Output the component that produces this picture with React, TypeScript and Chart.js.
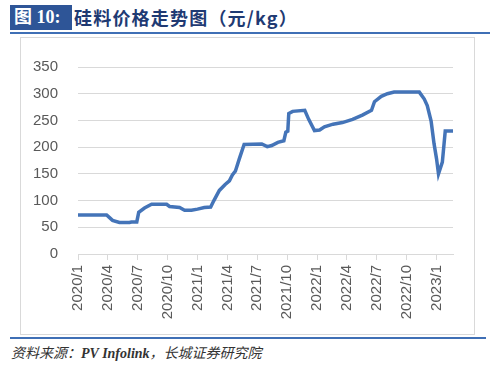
import React, { useEffect, useRef } from "react";
import { Chart, registerables } from "chart.js";

Chart.register(...registerables);

// Weekly-ish sample dates and silicon price (元/kg)
const dates: string[] = [
  "2020-01-01", "2020-03-28", "2020-04-06", "2020-04-15", "2020-05-06", "2020-06-06",
  "2020-06-12", "2020-06-28", "2020-07-04", "2020-07-22", "2020-08-13", "2020-09-28",
  "2020-10-07", "2020-11-07", "2020-11-22", "2020-12-13", "2021-01-01", "2021-01-22",
  "2021-02-10", "2021-02-19", "2021-03-07", "2021-03-25", "2021-04-07", "2021-04-16",
  "2021-04-25", "2021-05-07", "2021-05-22", "2021-07-15", "2021-08-01", "2021-08-15",
  "2021-09-03", "2021-09-21", "2021-09-27", "2021-10-03", "2021-10-06", "2021-10-18",
  "2021-11-24", "2021-12-06", "2021-12-24", "2022-01-09", "2022-01-24", "2022-02-18",
  "2022-03-18", "2022-04-18", "2022-05-18", "2022-06-15", "2022-06-24", "2022-07-15",
  "2022-08-03", "2022-08-24", "2022-11-09", "2022-11-24", "2022-12-03", "2022-12-15",
  "2022-12-24", "2023-01-01", "2023-01-07", "2023-01-19", "2023-01-28", "2023-02-21",
];
const prices: number[] = [
  73, 73, 68, 63, 59, 59,
  60, 60, 78, 86, 93, 93,
  89, 87, 82, 82, 84, 87,
  88, 100, 119, 130, 137, 148,
  155, 178, 205, 206, 201, 203,
  209, 212, 228, 230, 263, 267,
  269, 252, 231, 232, 238, 243,
  246, 252, 260, 269, 285, 295,
  300, 303, 303, 290, 278, 249,
  207, 178, 150, 172, 230, 230,
];
const yTicks: number[] = [0, 50, 100, 150, 200, 250, 300, 350];
const startYear = 2020;
const xMaxMonths = 37.65;

function monthOffset(d: string): number {
  const [y, m, day] = d.split("-").map(Number);
  const dim = new Date(y, m, 0).getDate();
  return (y - startYear) * 12 + (m - 1) + (day - 1) / dim;
}

function ChartBox() {
  const ref = useRef<HTMLCanvasElement | null>(null);
  useEffect(() => {
    if (!ref.current) return;
    const grey = "#595959";
    const tickFont = { family: "'Liberation Sans', Arial, sans-serif", size: 15 };
    const chart = new Chart(ref.current, {
      type: "line",
      data: {
        datasets: [
          {
            data: dates.map((d, i) => ({ x: monthOffset(d), y: prices[i] })),
            borderColor: "#4474B8",
            borderWidth: 3.5,
            pointRadius: 0,
            tension: 0,
            fill: false,
          },
        ],
      },
      options: {
        animation: false,
        responsive: false,
        devicePixelRatio: 1,
        layout: { padding: { top: 18, right: 21, left: 0, bottom: 0 } },
        plugins: { legend: { display: false }, tooltip: { enabled: false } },
        scales: {
          x: {
            type: "linear",
            min: 0,
            max: xMaxMonths,
            afterFit: (s: any) => { s.height = 80; },
            afterBuildTicks: (s: any) => {
              s.ticks = s.ticks.filter((t: any) => t.value % 3 === 0 && t.value <= 36);
            },
            ticks: {
              stepSize: 3,
              includeBounds: false,
              autoSkip: false,
              minRotation: 90,
              maxRotation: 90,
              padding: 5,
              color: grey,
              font: tickFont,
              callback: (v: any) => {
                const n = Number(v);
                return `${startYear + Math.floor(n / 12)}/${(n % 12) + 1}`;
              },
            },
            grid: {
              drawOnChartArea: false,
              drawTicks: true,
              tickLength: 6,
              color: "#D9D9D9",
              lineWidth: 1,
            },
            border: { display: true, color: "#D9D9D9", width: 1 },
          },
          y: {
            min: 0,
            max: 350,
            afterFit: (s: any) => { s.width = 57; },
            afterBuildTicks: (s: any) => {
              s.ticks = yTicks.map((v) => ({ value: v }));
            },
            ticks: { padding: 20, color: grey, font: tickFont },
            grid: { drawTicks: false, color: "#D9D9D9", lineWidth: 1 },
            border: { display: false },
          },
        },
      },
    } as any);
    return () => chart.destroy();
  }, []);
  return <canvas ref={ref} width={453} height={296} style={{ display: "block", width: 453, height: 296 }} />;
}

export default function App() {
  return (
    <div
      style={{
        position: "absolute",
        left: 0,
        top: 0,
        width: 500,
        height: 369,
        background: "#fff",
        overflow: "hidden",
        fontFamily: "'Liberation Serif', 'Noto Sans CJK SC', serif",
      }}
    >
      <div
        style={{
          position: "absolute",
          left: 10,
          top: 5,
          width: 62,
          height: 25,
          background: "#2E5597",
          color: "#fff",
          fontWeight: "bold",
          fontSize: 18,
          lineHeight: "25px",
          paddingLeft: 4,
          boxSizing: "border-box",
          whiteSpace: "nowrap",
        }}
      >
        图 10:
      </div>
      <div
        style={{
          position: "absolute",
          left: 74,
          top: 5,
          height: 25,
          color: "#1F3A73",
          fontWeight: "bold",
          fontSize: 18,
          lineHeight: "25px",
          letterSpacing: 1.2,
          whiteSpace: "nowrap",
          fontFamily: "'Noto Sans CJK SC', sans-serif",
        }}
      >
        硅料价格走势图（元/kg）
      </div>
      <div style={{ position: "absolute", left: 10, top: 32, width: 480, height: 2, background: "#3F6FB5" }} />
      <div
        style={{
          position: "absolute",
          left: 20,
          top: 37,
          width: 455,
          height: 298,
          border: "1px solid #D9D9D9",
          boxSizing: "border-box",
        }}
      >
        <ChartBox />
      </div>
      <div style={{ position: "absolute", left: 10, top: 337, width: 476, height: 2, background: "#3F6FB5" }} />
      <div
        style={{
          position: "absolute",
          left: 11,
          top: 345,
          fontSize: 14,
          lineHeight: "18px",
          fontStyle: "italic",
          color: "#333",
          whiteSpace: "nowrap",
          fontFamily: "'Liberation Serif', 'Noto Sans CJK SC', serif",
        }}
      >
        资料来源：<b>PV Infolink</b>，长城证券研究院
      </div>
    </div>
  );
}
